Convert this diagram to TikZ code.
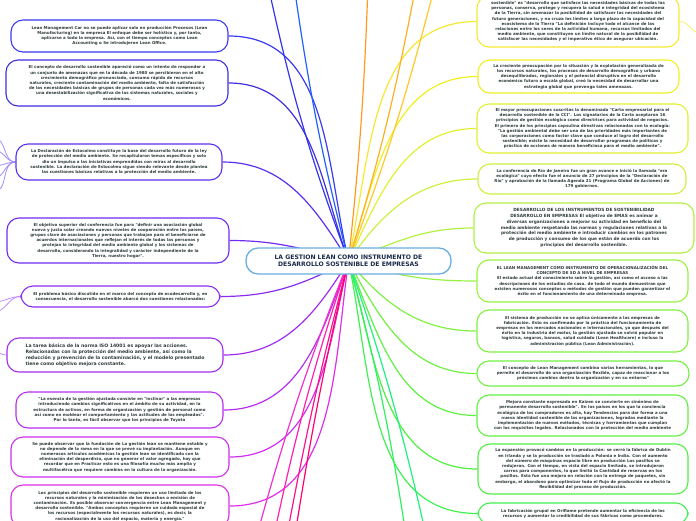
\documentclass[tikz,border=0pt]{standalone}
\usepackage{fontspec}
\newfontfamily\mapfont{DejaVu Sans}
\usepackage{xcolor}
\usetikzlibrary{backgrounds}

\definecolor{textgray}{HTML}{2E3B3B}
\definecolor{hubtext}{HTML}{1B2A4A}
\definecolor{hubline}{HTML}{6AAEE0}
% left branch colours
\definecolor{cLa}{HTML}{3A3AF0}
\definecolor{cLb}{HTML}{3F2FE0}
\definecolor{cLc}{HTML}{5A2FF0}
\definecolor{cLd}{HTML}{6F2BF0}
\definecolor{cLe}{HTML}{8A2CF0}
\definecolor{cLf}{HTML}{A02CF0}
\definecolor{cLg}{HTML}{B82EF0}
\definecolor{cLh}{HTML}{D02EF0}
\definecolor{cLi}{HTML}{E02EE8}
% right branch colours
\definecolor{cRa}{HTML}{F5E830}
\definecolor{cRb}{HTML}{F0F020}
\definecolor{cRc}{HTML}{E0F030}
\definecolor{cRd}{HTML}{CCF040}
\definecolor{cRe}{HTML}{B0F040}
\definecolor{cRf}{HTML}{98F040}
\definecolor{cRg}{HTML}{80F040}
\definecolor{cRh}{HTML}{70F040}
\definecolor{cRi}{HTML}{60F040}
\definecolor{cRj}{HTML}{50F040}
\definecolor{cRk}{HTML}{40F050}
% branches leaving the page
\definecolor{cTa}{HTML}{3434F0}
\definecolor{cTb}{HTML}{2060FF}
\definecolor{cOa}{HTML}{FF9A20}
\definecolor{cOb}{HTML}{FFB020}
\definecolor{cOc}{HTML}{FFC828}
\definecolor{cGa}{HTML}{30F060}
\definecolor{cGb}{HTML}{20F080}
\definecolor{cPa}{HTML}{F030D0}
\definecolor{cPb}{HTML}{FF20B0}
\definecolor{cPc}{HTML}{FF1090}
\definecolor{cPd}{HTML}{FF0070}

\begin{document}
\begin{tikzpicture}[
    x=1pt, y=-1pt,
    leaf/.style = {rectangle, rounded corners=12pt, fill=white, line width=1.1pt, align=center, text=textgray, inner sep=1pt, font=\mapfont\bfseries\fontsize{4.0}{5.2}\selectfont},
    bigleaf/.style = {leaf, font=\mapfont\bfseries\fontsize{4.3}{5.8}\selectfont},
    hub/.style = {rectangle, rounded corners=12pt, fill=white, draw=hubline, line width=1.3pt, align=center, text=hubtext, minimum width=205pt, minimum height=26pt, font=\mapfont\bfseries\fontsize{6.1}{7}\selectfont},
    link/.style = {line width=1.2pt},
    twig/.style = {line width=0.8pt}
]
\useasboundingbox (0,0) rectangle (696,520);

% Central topic
\node (hub) [hub] at (348.5,261) {LA GESTION LEAN COMO INSTRUMENTO DE\\DESARROLLO SOSTENIBLE DE EMPRESAS};

% Left topics
\node (La) [leaf, draw=cLa, minimum width=217pt, minimum height=32pt] at (119.5,36) {Lean Management Car no se puede aplicar solo en producción Procesos (Lean\\Manufacturing) en la empresa El enfoque debe ser holístico y, por tanto,\\aplicarse a todo la empresa. Así, con el tiempo conceptos como Lean\\Accounting o Se introdujeron Lean Office.};
\node (Lb) [leaf, draw=cLb, minimum width=222pt, minimum height=46pt] at (117,83) {El concepto de desarrollo sostenible apareció como un intento de responder a\\un conjunto de amenazas que en la década de 1980 se percibieron en el alto\\crecimiento demográfico pronunciado, consumo rápido de recursos\\naturales, creciente contaminación del medio ambiente, falta de satisfacción\\de las necesidades básicas de grupos de personas cada vez más numerosos y\\una desestabilización significativa de los sistemas naturales, sociales y\\económicos.};
\node (Lc) [leaf, draw=cLc, minimum width=206pt, minimum height=36pt] at (119,162) {La Declaración de Estocolmo constituye la base del desarrollo futuro de la ley\\de protección del medio ambiente. Se recapitularon temas específicos y solo\\dio un impulso a las iniciativas emprendidas con miras al desarrollo\\sostenible. La declaración de Estocolmo sigue siendo relevante desde plantea\\las cuestiones básicas relativas a la protección del medio ambiente.};
\node (Ld) [leaf, draw=cLd, minimum width=222pt, minimum height=45pt] at (118,240.5) {El objetivo superior del conferencia fue para "definir una asociación global\\nueva y justa solar creando nuevos niveles de cooperación entre los países,\\grupos clave de asociaciones y personas que trabajan para el beneficiarse de\\acuerdos internacionales que reflejan el interés de todas las personas y\\protejan la integridad del medio ambiente global y los sistemas de\\desarrollo, considerando la integralidad y carácter independiente de la\\Tierra, nuestro hogar".};
\node (Le) [leaf, draw=cLe, minimum width=199pt, minimum height=21pt] at (120.5,296.5) {El problema básico discutido en el marco del concepto de ecodesarrollo y, en\\consecuencia, el desarrollo sostenible abarcó dos cuestiones relacionadas:};
\node (Lf) [bigleaf, draw=cLf, align=left, minimum width=216pt, minimum height=34pt, font=\mapfont\bfseries\fontsize{4.6}{6}\selectfont] at (115,355) {La tarea básica de la norma ISO 14001 es apoyar las acciones.\\Relacionadas con la protección del medio ambiente, así como la\\reducción y prevención de la contaminación, y el modelo presentado\\tiene como objetivo mejora constante.};
\node (Lg) [leaf, draw=cLg, minimum width=207pt, minimum height=36pt] at (119.5,410) {"La esencia de la gestión ajustada consiste en "inclinar" a las empresas\\introduciendo cambios significativos en el ámbito de su actividad, en la\\estructura de activos, en forma de organización y gestión de personal como\\así como en moldear el comportamiento y las actitudes de los empleados".\\Por lo tanto, es fácil observar que los principios de Toyota};
\node (Lh) [leaf, draw=cLh, minimum width=218pt, minimum height=40pt] at (120,457) {Se puede observar que la fundación de La gestión lean se mantiene estable y\\no depende de la rama en la que se prevé su implantación. Aunque en\\numerosos artículos académicos la gestión lean se identificado con la\\eliminación del desperdicio, que no generar el valor agregado, hay que\\recordar que en Practicar esto es una filosofía mucho más amplia y\\multifacética que requiere cambios en la cultura de la organización.};
\node (Li) [leaf, draw=cLi, minimum width=218pt, minimum height=42pt] at (120,506) {Los principios del desarrollo sostenible requieren un uso limitado de los\\recursos naturales y la minimización de los desechos o emisión de\\contaminación. Es posible observar convergencia entre Lean Management y\\desarrollo sostenible. "Ambos conceptos requieren un cuidado especial de\\los recursos (especialmente los recursos naturales), es decir, la\\racionalización de la uso del espacio, materia y energía."};

% Right topics
\node (Ra) [leaf, draw=cRa, minimum width=202pt, minimum height=51pt] at (578,21.5) {sostenible" es "desarrollo que satisface las necesidades básicas de todas las\\personas, conserva, protege y recupera la salud e integridad del ecosistema\\de la Tierra, sin amenazar la posibilidad de satisfacer las necesidades del\\futuro generaciones, y no cruza los límites a largo plazo de la capacidad del\\ecosistema de la Tierra "La definición incluye todo el alcance de las\\relaciones entre los seres de la actividad humana, recursos limitados del\\medio ambiente, que constituyen un límite natural de la posibilidad de\\satisfacer las necesidades y el imperativo ético de asegurar ubicación.};
\node (Rb) [leaf, draw=cRb, minimum width=201pt, minimum height=33pt] at (578.5,76.5) {La creciente preocupación por la situación y la explotación generalizada de\\los recursos naturales, los procesos de desarrollo demográfico y urbano\\desequilibrados, regionales y el potencial disruptivo en el desarrollo\\económico futuro a escala global, creó la necesidad de desarrollar una\\estrategia global que prevenga tales amenazas.};
\node (Rc) [leaf, draw=cRc, minimum width=211pt, minimum height=49pt] at (582.5,128.5) {El mayor preocupaciones suscritas la denominada "Carta empresarial para el\\desarrollo sostenible de la CCI". Los signatarios de la Carta aceptaron 16\\principios de gestión ecológica como directrices para actividad de negocios.\\El primero de los principios capsulina directivas relacionadas con la ecología:\\"La gestión ambiental debe ser una de las prioridades más importantes de\\las corporaciones como factor clave que conduce al logro del desarrollo\\sostenible; existe la necesidad de desarrollar programas de políticas y\\práctica de acciones de manera beneficiosa para el medio ambiente".};
\node (Rd) [leaf, draw=cRd, minimum width=208pt, minimum height=30pt] at (582,179) {La conferencia de Río de Janeiro fue un gran avance e inició la llamada "era\\ecológica" cuyo efecto fue el anuncio de 27 principios de la "Declaración de\\Río" y aprobación de la llamada Agenda 21 (Programa Global de Acciones) de\\179 gobiernos.};
\node (Re) [bigleaf, draw=cRe, minimum width=220pt, minimum height=50pt] at (584,228) {DESARROLLO DE LOS INSTRUMENTOS DE SOSTENIBILIDAD\\DESARROLLO EN EMPRESAS El objetivo de EMAS es animar a\\diversas organizaciones a mejorar su actividad en beneficio del\\medio ambiente respetando las normas y regulaciones relativas a la\\protección del medio ambiente e introducir cambios en los patrones\\de producción y consumo de los que están de acuerdo con los\\principios del desarrollo sostenible.};
\node (Rf) [leaf, draw=cRf, minimum width=211pt, minimum height=42pt] at (582.5,281) {EL LEAN MANAGEMENT COMO INSTRUMENTO DE OPERACIONALIZACIÓN DEL\\CONCEPTO DE SD A NIVEL DE EMPRESAS\\El estado actual del conocimiento sobre la gestión, así como el acceso a las\\descripciones de los estudios de caso. de todo el mundo demuestran que\\existen numerosos conceptos o métodos de gestión que pueden garantizar el\\éxito en el funcionamiento de una determinada empresa.};
\node (Rg) [leaf, draw=cRg, minimum width=211pt, minimum height=42pt] at (582.5,331) {El sistema de producción no se aplica únicamente a las empresas de\\fabricación. Esto es confirmado por la práctica del funcionamiento de\\empresas en los mercados nacionales e internacionales, ya que después del\\éxito en la industria del motor, la gestión ajustada se volvió popular en\\logística, seguros, bancos, salud cuidado (Lean Healthcare) e incluso la\\administración pública (Lean Administración).};
\node (Rh) [leaf, draw=cRh, minimum width=212pt, minimum height=25pt] at (583,373.5) {El concepto de Lean Management combina varias herramientas, lo que\\permite el desarrollo de una organización flexible, capaz de reaccionar a los\\próximos cambios dentro la organización y en su entorno"};
\node (Ri) [leaf, draw=cRi, minimum width=211pt, minimum height=41pt] at (582.5,415.5) {Mejora constante expresada en Kaizen se convierte en sinónimo de\\permanente desarrollo sostenible". En los países en los que la conciencia\\ecológica de los compradores es alta, hay Tendencias para dar forma a una\\nueva identidad sostenible de las organizaciones, logradas mediante la\\implementación de nuevos métodos, técnicas y herramientas que cumplan\\con los requisitos legales. Relacionados con la protección del medio ambiente};
\node (Rj) [leaf, draw=cRj, minimum width=210pt, minimum height=50pt] at (583,469) {La expansión provocó cambios en la producción: se cerró la fábrica de Dublín\\en Irlanda y se la producción se trasladó a Polonia e India. Con el aumento\\del número de máquinas espacio libre en producción Los pasillos se\\redujeron. Con el tiempo, en vista del espacio limitado, se introdujeron\\carros para componentes, lo que limitó la Cantidad de reservas en los\\pasillos. Esta fue una mejora en relación con la entrega de paquetes, sin\\embargo, el abandono para optimizar todo el flujo de producción no afectó la\\flexibilidad del proceso de producción.};
\node (Rk) [leaf, draw=cRk, minimum width=210pt, minimum height=21pt] at (583,513.5) {La fabricación grupal en Oriflame pretende aumentar la eficiencia de los\\recursos y aumentar la credibilidad de sus fábricas como proveedores.};

% Free ends of branches running off the page
\coordinate (Ta) at (268,-15);
\coordinate (Tb) at (294,-15);
\coordinate (Oa) at (368,-15);
\coordinate (Ob) at (416,-15);
\coordinate (Oc) at (435,-15);
\coordinate (Ga) at (406,535);
\coordinate (Gb) at (426,535);
\coordinate (Pa) at (257,535);
\coordinate (Pb) at (274,535);
\coordinate (Pc) at (287,535);
\coordinate (Pd) at (295,535);

\begin{scope}[on background layer]
% Connectors to the left topics
\draw [link, draw=cLa] (hub.center) to[out=103, in=0] (La.east);
\draw [link, draw=cLb] (hub.center) to[out=110, in=0] (Lb.east);
\draw [link, draw=cLc] (hub.center) to[out=122, in=0] (Lc.east);
\draw [link, draw=cLd] (hub.center) to[out=165, in=0] (Ld.east);
\draw [link, draw=cLe] (hub.center) to[out=207, in=0] (Le.east);
\draw [link, draw=cLf] (hub.center) to[out=238, in=0] (Lf.east);
\draw [link, draw=cLg] (hub.center) to[out=250, in=0] (Lg.east);
\draw [link, draw=cLh] (hub.center) to[out=257, in=0] (Lh.east);
\draw [link, draw=cLi] (hub.center) to[out=262, in=0] (Li.east);

% Connectors to the right topics
\draw [link, draw=cRa] (hub.center) to[out=78, in=180] (Ra.west);
\draw [link, draw=cRb] (hub.center) to[out=72, in=180] (Rb.west);
\draw [link, draw=cRc] (hub.center) to[out=65, in=180] (Rc.west);
\draw [link, draw=cRd] (hub.center) to[out=55, in=180] (Rd.west);
\draw [link, draw=cRe] (hub.center) to[out=22, in=180] (Re.west);
\draw [link, draw=cRf] (hub.center) to[out=-17, in=180] (Rf.west);
\draw [link, draw=cRg] (hub.center) to[out=-50, in=180] (Rg.west);
\draw [link, draw=cRh] (hub.center) to[out=-62, in=180] (Rh.west);
\draw [link, draw=cRi] (hub.center) to[out=-68, in=180] (Ri.west);
\draw [link, draw=cRj] (hub.center) to[out=-74, in=180] (Rj.west);
\draw [link, draw=cRk] (hub.center) to[out=-78, in=180] (Rk.west);

% Branches leaving the page
\draw [link, draw=cTa] (hub.center) to[bend left=4] (Ta);
\draw [link, draw=cTb] (hub.center) to[bend left=3] (Tb);
\draw [link, draw=cOa] (hub.center) to[bend right=2] (Oa);
\draw [link, draw=cOb] (hub.center) to[bend right=3] (Ob);
\draw [link, draw=cOc] (hub.center) to[bend right=3] (Oc);
\draw [link, draw=cGa] (hub.center) to[bend left=3] (Ga);
\draw [link, draw=cGb] (hub.center) to[bend left=3] (Gb);
\draw [link, draw=cPa] (hub.center) to[bend right=3] (Pa);
\draw [link, draw=cPb] (hub.center) to[bend right=3] (Pb);
\draw [link, draw=cPc] (hub.center) to[bend right=2] (Pc);
\draw [link, draw=cPd] (hub.center) to[bend right=2] (Pd);

% Sub-branches of outer topics
\draw [twig, draw=cLc!55] (Lc.west) to[out=180, in=0] (-6,138);
\draw [twig, draw=cLc!55] (Lc.west) to[out=180, in=0] (-6,150);
\draw [twig, draw=cLc!55] (Lc.west) to[out=180, in=0] (-6,166);
\draw [twig, draw=cLc!55] (Lc.west) to[out=180, in=0] (-6,178);
\draw [twig, draw=cLc!55] (Lc.west) to[out=180, in=0] (-6,192);
\draw [twig, draw=cLe!55] (Le.west) to[out=180, in=0] (-6,302);
\draw [twig, draw=cLe!55] (Le.west) to[out=180, in=0] (-6,312);
\draw [twig, draw=cLf!55] (Lf.west) to[out=180, in=0] (-6,352);
\draw [twig, draw=cRa!70] (Ra.east) to[out=0, in=180] (702,34);
\end{scope}

\end{tikzpicture}
\end{document}
